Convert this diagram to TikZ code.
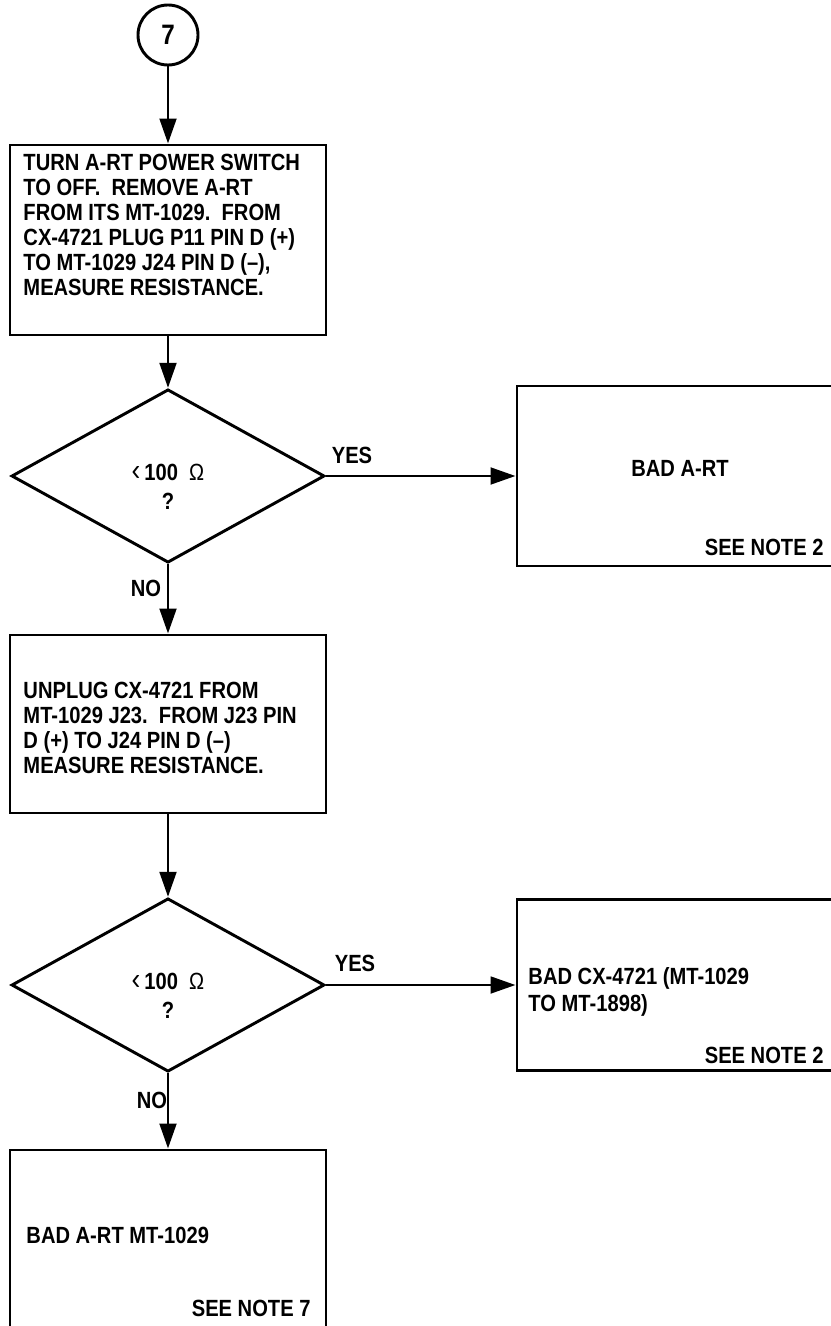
\documentclass[tikz,border=0pt]{standalone}
\usepackage{fontspec}
\setmainfont{Liberation Sans}[FakeStretch=0.86]
\usetikzlibrary{arrows.meta,shapes.geometric}

\begin{document}
\begin{tikzpicture}[x=0.03cm, y=-0.03cm, line width=2.5pt, >={Triangle[length=0.75cm,width=0.5cm]},
	every node/.style={font=\fontsize{20}{21.3}\selectfont\bfseries, inner sep=0pt},
	box/.style={draw, rectangle},
	ask/.style={draw, diamond, aspect=1.8, minimum width=9.39cm, minimum height=5.2cm},
	txt/.style={align=left}]
	% 0. page frame
	\useasboundingbox (0,0) rectangle (830,1326);

	% 1. start connector and boxes
	\node[draw, circle, minimum size=1.8cm, font=\fontsize{24}{26}\selectfont\bfseries] (start) at (168,35) {7};
	\node[box, minimum width=9.48cm, minimum height=5.7cm] (b1) at (168,240) {};
	\node[box, minimum width=9.48cm, minimum height=5.34cm] (b3) at (168,724) {};
	\node[box, minimum width=9.48cm, minimum height=5.7cm] (b5) at (168,1245) {};
	\node[box, minimum width=9.84cm, minimum height=5.4cm] (b2) at (681,476) {};
	\node[box, minimum width=9.84cm, minimum height=5.13cm] (b4) at (681,985) {};

	% 2. decisions
	\node[ask] (d1) at (168,476) {};
	\node[ask] (d2) at (168,985) {};
	\node[align=center] (q1) at (168,487) {{\mdseries\fontsize{26}{26}\selectfont ‹}\,100\ \ {\mdseries Ω}\\[3pt]?};
	\node[align=center] (q2) at (168,996) {{\mdseries\fontsize{26}{26}\selectfont ‹}\,100\ \ {\mdseries Ω}\\[3pt]?};

	% 3. texts
	\node[txt, anchor=north west] (t1) at (22,153) {TURN A-RT POWER SWITCH\\TO OFF.\ \ REMOVE A-RT\\FROM ITS MT-1029.\ \ FROM\\CX-4721 PLUG P11 PIN D (+)\\TO MT-1029 J24 PIN D (–),\\MEASURE RESISTANCE.};
	\node[txt, anchor=north west] (t3) at (22,681) {UNPLUG CX-4721 FROM\\MT-1029 J23.\ \ FROM J23 PIN\\D (+) TO J24 PIN D (–)\\MEASURE RESISTANCE.};
	\node (t2) at (680,468) {BAD A-RT};
	\node[anchor=east] (n2) at (825,547) {SEE NOTE 2};
	\node[txt, anchor=north west] (t4) at (527,966) {BAD CX-4721 (MT-1029\\[2pt]TO MT-1898)};
	\node[anchor=east] (n4) at (825,1055) {SEE NOTE 2};
	\node[anchor=west] (t5) at (25,1235) {BAD A-RT MT-1029};
	\node[anchor=east] (n5) at (312,1308) {SEE NOTE 7};

	% 4. answers
	\node (y1) at (352,455) {YES};
	\node (y2) at (355,963) {YES};
	\node (no1) at (146,588) {NO};
	\node (no2) at (152,1100) {NO};

	% 5. arrows
	\draw[->] (start) -- (b1);
	\draw[->] (b1) -- (d1);
	\draw[->] (d1) -- (b2);
	\draw[->] (d1) -- (b3);
	\draw[->] (b3) -- (d2);
	\draw[->] (d2) -- (b4);
	\draw[->] (d2) -- (b5);
\end{tikzpicture}
\end{document}
